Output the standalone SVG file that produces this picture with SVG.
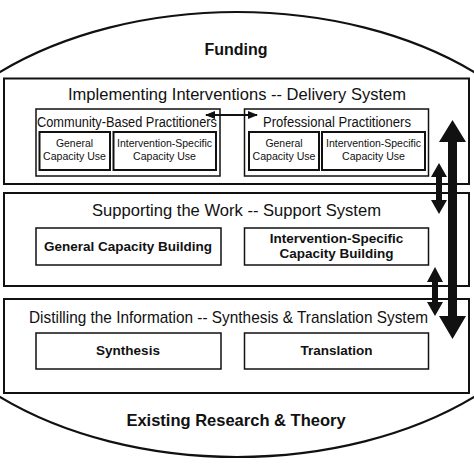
<svg xmlns="http://www.w3.org/2000/svg" width="474" height="474" viewBox="0 0 474 474">
<style>
.bg{fill:#fff}
.outer{fill:#fff;stroke:#111;stroke-width:2}
.inner{fill:#fff;stroke:#111;stroke-width:1.5}
.sub{fill:#fff;stroke:#111;stroke-width:2}
text{font-family:"Liberation Sans",Arial,Helvetica,sans-serif;fill:#111;text-anchor:middle}
.title{font-size:17px}
.grp{font-size:14px}
.small{font-size:11.5px}
.bold{font-weight:bold;font-size:13.5px}
.big{font-weight:bold;font-size:16.5px}
.arrow{fill:#111}
</style>
<defs>
<marker id="ah" viewBox="0 0 10 10" refX="9" refY="5" markerWidth="5" markerHeight="5" orient="auto-start-reverse" markerUnits="strokeWidth">
<path d="M0,1 L10,5 L0,9 Z" fill="#111"/>
</marker>
</defs>
<rect class="bg" x="0" y="0" width="474" height="474"/>
<g id="frame">
<ellipse cx="237" cy="234.5" rx="347" ry="222.5" fill="none" stroke="#111" stroke-width="2.2"/>
<text class="big" x="236" y="55" style="font-size:16px">Funding</text>
<text class="big" x="236" y="426">Existing Research &amp; Theory</text>
</g>
<g id="delivery">
<rect class="outer" x="4" y="78.5" width="465" height="105.5"/>
<text class="title" x="237" y="100" textLength="338" lengthAdjust="spacingAndGlyphs">Implementing Interventions -- Delivery System</text>
</g>
<g id="community">
<rect class="inner" x="36" y="109" width="184" height="67"/>
<text class="grp" x="127" y="127" textLength="180" lengthAdjust="spacingAndGlyphs">Community-Based Practitioners</text>
</g>
<g id="community-general">
<rect class="sub" x="39.5" y="132" width="70.5" height="38"/>
<text class="small" x="74.5" y="147" textLength="37" lengthAdjust="spacingAndGlyphs">General</text>
<text class="small" x="74.5" y="159.5" textLength="63" lengthAdjust="spacingAndGlyphs">Capacity Use</text>
</g>
<g id="community-specific">
<rect class="sub" x="113.5" y="132" width="102.5" height="38"/>
<text class="small" x="164.5" y="147" textLength="95" lengthAdjust="spacingAndGlyphs">Intervention-Specific</text>
<text class="small" x="164.5" y="159.5" textLength="63" lengthAdjust="spacingAndGlyphs">Capacity Use</text>
</g>
<g id="professional">
<rect class="inner" x="244.5" y="109" width="184" height="67"/>
<text class="grp" x="337" y="127" textLength="148" lengthAdjust="spacingAndGlyphs">Professional Practitioners</text>
</g>
<g id="professional-general">
<rect class="sub" x="249" y="132" width="70" height="38"/>
<text class="small" x="284" y="147" textLength="37" lengthAdjust="spacingAndGlyphs">General</text>
<text class="small" x="284" y="159.5" textLength="63" lengthAdjust="spacingAndGlyphs">Capacity Use</text>
</g>
<g id="professional-specific">
<rect class="sub" x="322" y="132" width="103" height="38"/>
<text class="small" x="373.5" y="147" textLength="95" lengthAdjust="spacingAndGlyphs">Intervention-Specific</text>
<text class="small" x="373.5" y="159.5" textLength="63" lengthAdjust="spacingAndGlyphs">Capacity Use</text>
</g>
<g id="support">
<rect class="outer" x="4" y="193" width="465" height="93"/>
<text class="title" x="236.5" y="216" textLength="289" lengthAdjust="spacingAndGlyphs">Supporting the Work -- Support System</text>
</g>
<g id="general-building">
<rect class="inner" x="36" y="228" width="185" height="37"/>
<text class="bold" x="128" y="251">General Capacity Building</text>
</g>
<g id="specific-building">
<rect class="inner" x="244.5" y="228" width="184" height="37"/>
<text class="bold" x="336.5" y="243">Intervention-Specific</text>
<text class="bold" x="336.5" y="258">Capacity Building</text>
</g>
<g id="synthesis-system">
<rect class="outer" x="4" y="299" width="465" height="94"/>
<text class="title" x="228.5" y="323" textLength="399" lengthAdjust="spacingAndGlyphs">Distilling the Information -- Synthesis &amp; Translation System</text>
</g>
<g id="synthesis">
<rect class="inner" x="36" y="333" width="185" height="36"/>
<text class="bold" x="128" y="355">Synthesis</text>
</g>
<g id="translation">
<rect class="inner" x="244.5" y="333" width="184" height="36"/>
<text class="bold" x="336.5" y="355">Translation</text>
</g>
<g id="connectors">
<line x1="206" y1="115" x2="257" y2="115" stroke="#111" stroke-width="2" marker-start="url(#ah)" marker-end="url(#ah)"/>
<polygon class="arrow" points="452.5,120 466,142 457,142 457,316 466,316 452.5,339 439,316 448,316 448,142 439,142"/>
<polygon class="arrow" points="439,163 447,177 442,177 442,200 447,200 439,214 431,200 436,200 436,177 431,177"/>
<polygon class="arrow" points="435,267 443,282 438,282 438,302 443,302 435,316 427,302 432,302 432,282 427,282"/>
</g>
</svg>
